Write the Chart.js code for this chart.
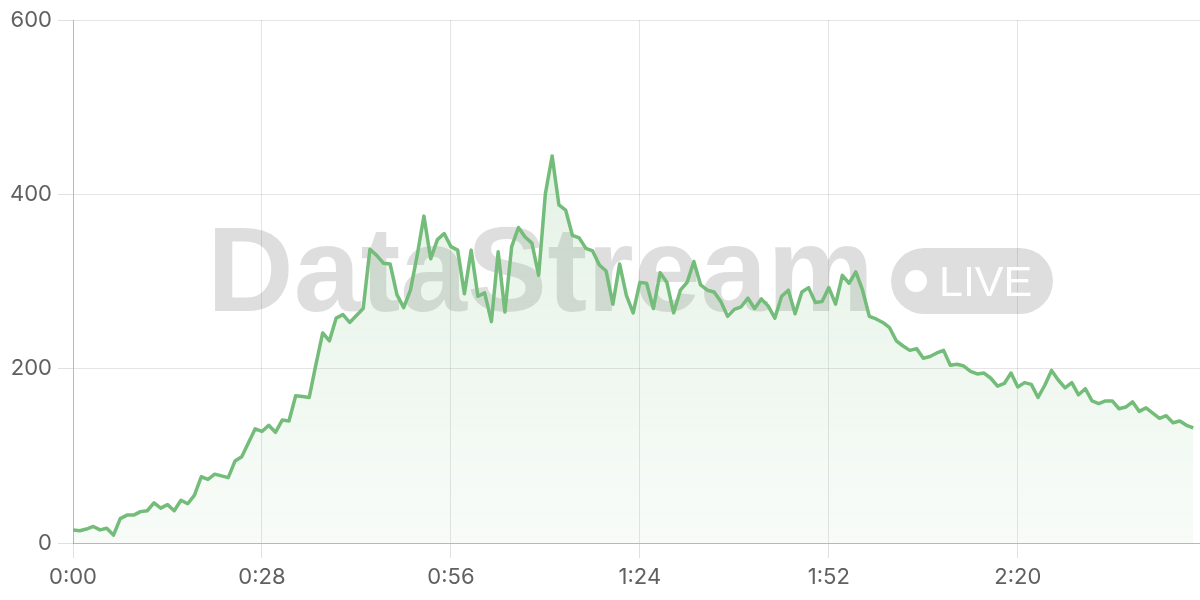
<!DOCTYPE html>
<html lang="en">
<head>
<meta charset="UTF-8">
<title>DataStream Live Viewers</title>
<script src="https://cdn.jsdelivr.net/npm/chart.js"></script>
<style>
  html, body { margin: 0; padding: 0; background: #fff; }
  .wrap { position: relative; width: 1200px; height: 600px; }
</style>
</head>
<body>
<div class="wrap"><canvas id="streamChart" width="1200" height="600"></canvas></div>
<script>
// viewers per minute, minute 0 .. 166
const viewers = [
  15, 14, 16, 19, 15, 17, 9, 28, 32, 32, 36, 37, 46, 40, 44, 37, 49, 45, 55, 76,
  73, 79, 77, 75, 94, 99, 115, 131, 128, 135, 127, 141, 140, 169, 168, 167, 205, 241, 232, 258,
  262, 253, 261, 269, 337, 330, 321, 320, 285, 270, 290, 330, 375, 326, 348, 355, 340, 336, 286, 336,
  283, 287, 254, 334, 265, 340, 362, 351, 344, 307, 401, 444, 388, 382, 353, 350, 338, 335, 319, 312,
  274, 320, 284, 264, 299, 298, 269, 310, 299, 264, 290, 299, 323, 296, 290, 288, 277, 260, 268, 271,
  281, 269, 280, 272, 258, 283, 290, 263, 288, 293, 276, 277, 293, 274, 307, 298, 311, 290, 260, 257,
  253, 247, 232, 226, 221, 223, 212, 214, 218, 221, 204, 205, 203, 197, 194, 195, 189, 180, 183, 195,
  179, 184, 182, 167, 181, 198, 187, 178, 184, 170, 177, 163, 160, 163, 163, 154, 156, 162, 151, 155,
  149, 143, 146, 138, 140, 135, 132
];
const xTickValues = [0, 28, 56, 84, 112, 140];
const xTickLabels = ['0:00', '0:28', '0:56', '1:24', '1:52', '2:20'];
const yTickValues = [0, 200, 400, 600];

const points = viewers.map((v, i) => ({ x: i, y: v }));

const lineColor = 'rgb(116, 188, 122)';

// big faded "DataStream • LIVE" mark behind the series
const watermark = {
  id: 'watermark',
  beforeDatasetsDraw(chart) {
    const ctx = chart.ctx;
    ctx.save();
    ctx.fillStyle = 'rgba(0, 0, 0, 0.13)';
    ctx.font = 'bold 120px "Liberation Sans", Arial, sans-serif';
    ctx.textAlign = 'left';
    ctx.textBaseline = 'alphabetic';
    ctx.fillText('DataStream', 207, 311);

    ctx.beginPath();
    ctx.roundRect(891, 248, 162, 66, 33);
    ctx.fill();

    ctx.fillStyle = '#fff';
    ctx.beginPath();
    ctx.arc(916, 281, 11, 0, Math.PI * 2);
    ctx.fill();
    ctx.font = '43px "Liberation Sans", Arial, sans-serif';
    ctx.fillText('LIVE', 939, 296);
    ctx.restore();
  }
};

new Chart(document.getElementById('streamChart'), {
  type: 'line',
  data: {
    datasets: [{
      data: points,
      borderColor: lineColor,
      borderWidth: 3.5,
      borderJoinStyle: 'round',
      pointRadius: 0,
      tension: 0,
      fill: 'origin',
      backgroundColor: (context) => {
        const area = context.chart.chartArea;
        if (!area) return 'rgba(116,188,122,0.15)';
        const g = context.chart.ctx.createLinearGradient(0, area.top, 0, area.bottom);
        g.addColorStop(0, 'rgba(116,188,122,0.24)');
        g.addColorStop(1, 'rgba(116,188,122,0.05)');
        return g;
      }
    }]
  },
  options: {
    responsive: false,
    animation: false,
    layout: { padding: { top: 20, right: 0, bottom: 0, left: 0 } },
    plugins: {
      legend: { display: false },
      tooltip: { enabled: false }
    },
    scales: {
      x: {
        type: 'linear',
        min: 0,
        max: 167,
        afterBuildTicks: (scale) => { scale.ticks = xTickValues.map(v => ({ value: v })); },
        afterFit: (scale) => { scale.height = 57; },
        grid: { color: 'rgba(0,0,0,0.1)', tickColor: 'rgba(0,0,0,0.12)', tickLength: 15, drawTicks: true },
        border: { color: 'rgba(0,0,0,0.2)' },
        ticks: {
          padding: 6,
          color: '#606060',
          autoSkip: false,
          maxRotation: 0,
          minRotation: 0,
          font: { family: 'Inter', size: 22 },
          callback: (v) => xTickLabels[xTickValues.indexOf(v)]
        }
      },
      y: {
        min: 0,
        max: 600,
        afterBuildTicks: (scale) => { scale.ticks = yTickValues.map(v => ({ value: v })); },
        afterFit: (scale) => { scale.width = 73; },
        grid: { color: 'rgba(0,0,0,0.1)', tickColor: 'rgba(0,0,0,0.12)', tickLength: 15, drawTicks: true },
        border: { color: 'rgba(0,0,0,0.2)' },
        ticks: {
          padding: 6,
          color: '#606060',
          autoSkip: false,
          font: { family: 'Inter', size: 22 }
        }
      }
    }
  },
  plugins: [watermark]
});
</script>
</body>
</html>
